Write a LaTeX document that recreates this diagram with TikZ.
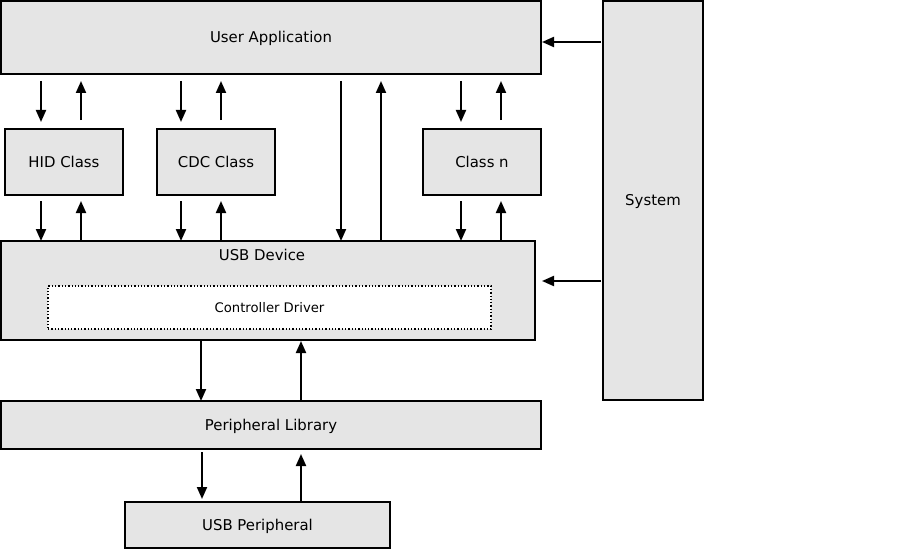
\documentclass[tikz,border=0pt]{standalone}
\usepackage{fontspec}
\setmainfont{DejaVu Sans}
\usetikzlibrary{arrows.meta,calc}
\tikzset{
  box/.style={draw=black, line width=2pt, fill=black!10, inner sep=0pt, outer sep=0pt,
    font=\fontsize{14.9}{17}\selectfont, text height=13pt, text depth=2.2pt},
  inner/.style={draw=black, line width=1.3pt, dotted, fill=white, inner sep=0pt, outer sep=0pt,
    font=\fontsize{13.2}{16}\selectfont, text height=11.8pt, text depth=2.2pt},
  lbl/.style={inner sep=0pt, font=\fontsize{14.9}{17}\selectfont, text height=13pt, text depth=2.2pt},
  arr/.style={line width=2pt, -{Triangle[length=12pt,width=10pt]}},
}
\begin{document}
\begin{tikzpicture}[x=1pt,y=-1pt]
\useasboundingbox (0,0) rectangle (903,551);
% boxes
\node[box, minimum width=540pt, minimum height=73pt] (ua) at (271,37.5) {User Application};
\node[box, minimum width=118pt, minimum height=66pt] (hid) at (64,162) {HID Class};
\node[box, minimum width=118pt, minimum height=66pt] (cdc) at (216,162) {CDC Class};
\node[box, minimum width=118pt, minimum height=66pt] (cn) at (482,162) {Class n};
\node[box, minimum width=534pt, minimum height=99pt] (usb) at (268,290.5) {};
\node[lbl] (usblbl) at (262,255) {USB Device};
\node[inner, minimum width=443pt, minimum height=43pt] (ctrl) at (269.5,307.5) {Controller Driver};
\node[box, minimum width=540pt, minimum height=48pt] (pl) at (271,425) {Peripheral Library};
\node[box, minimum width=265pt, minimum height=46pt] (up) at (257.5,525) {USB Peripheral};
\node[box, minimum width=100pt, minimum height=399pt] (sys) at (653,200.5) {System};
% User Application <-> classes
\draw[arr] ($(ua.south west)+(40,7)$) -- ($(hid.north west)+(36,-7)$);
\draw[arr] ($(hid.north west)+(76,-9)$) -- ($(ua.south west)+(80,7)$);
\draw[arr] ($(ua.south west)+(180,7)$) -- ($(cdc.north west)+(24,-7)$);
\draw[arr] ($(cdc.north west)+(64,-9)$) -- ($(ua.south west)+(220,7)$);
\draw[arr] ($(ua.south west)+(460,7)$) -- ($(cn.north west)+(38,-7)$);
\draw[arr] ($(cn.north west)+(78,-9)$) -- ($(ua.south west)+(500,7)$);
% classes <-> USB Device
\draw[arr] ($(hid.south west)+(36,6)$) -- ($(usb.north west)+(40,0)$);
\draw[arr] ($(usb.north west)+(80,0)$) -- ($(hid.south west)+(76,6)$);
\draw[arr] ($(cdc.south west)+(24,6)$) -- ($(usb.north west)+(180,0)$);
\draw[arr] ($(usb.north west)+(220,0)$) -- ($(cdc.south west)+(64,6)$);
\draw[arr] ($(cn.south west)+(38,6)$) -- ($(usb.north west)+(460,0)$);
\draw[arr] ($(usb.north west)+(500,0)$) -- ($(cn.south west)+(78,6)$);
% User Application <-> USB Device
\draw[arr] ($(ua.south west)+(340,7)$) -- ($(usb.north west)+(340,0)$);
\draw[arr] ($(usb.north west)+(380,0)$) -- ($(ua.south west)+(380,7)$);
% USB Device <-> Peripheral Library
\draw[arr] ($(usb.south west)+(200,1)$) -- ($(pl.north west)+(200,0)$);
\draw[arr] ($(pl.north west)+(300,0)$) -- ($(usb.south west)+(300,1)$);
% Peripheral Library <-> USB Peripheral
\draw[arr] ($(pl.south west)+(201,3)$) -- ($(up.north west)+(77,-3)$);
\draw[arr] ($(up.north west)+(176,0)$) -- ($(pl.south west)+(300,5)$);
% System -> User Application, USB Device
\draw[arr] ($(sys.north west)+(-2,41)$) -- ($(ua.north east)+(1,41)$);
\draw[arr] ($(sys.north west)+(-2,280)$) -- ($(usb.north east)+(7,40)$);
\end{tikzpicture}
\end{document}
